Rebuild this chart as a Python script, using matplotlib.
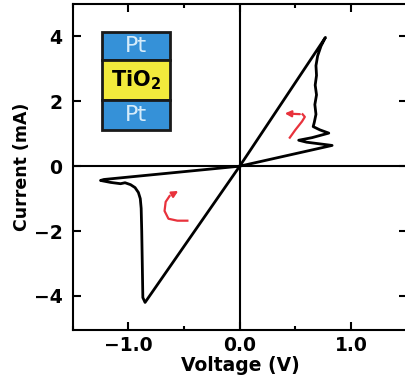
import matplotlib
matplotlib.use("Agg")
import matplotlib.pyplot as plt
from matplotlib.patches import Rectangle
from matplotlib.ticker import MultipleLocator

plt.rcParams['font.family'] = ['DejaVu Sans']
plt.rcParams['mathtext.fontset'] = 'dejavusans'

# I-V loop (Voltage in V, Current in mA)
voltage = [0.0, -0.85, -0.87, -0.875, -0.88, -0.885, -0.893, -0.91, -0.94, -0.98,
           -1.03, -1.07, -1.16, -1.25, -1.22, 0.0,
           0.83, 0.60, 0.53, 0.65, 0.80, 0.72, 0.66, 0.67, 0.685, 0.675, 0.69,
           0.678, 0.69, 0.685, 0.70, 0.73, 0.77, 0.0]
current = [0.0, -4.2, -4.05, -3.0, -2.0, -1.3, -1.0, -0.81, -0.66, -0.57,
           -0.51, -0.54, -0.50, -0.44, -0.41, 0.0,
           0.64, 0.74, 0.80, 0.88, 1.02, 1.12, 1.22, 1.35, 1.6, 1.9, 2.2,
           2.5, 2.8, 3.1, 3.4, 3.7, 3.97, 0.0]

xticks = [-1.0, 0.0, 1.0]
xticklabels = ['\u22121.0', '0.0', '1.0']
yticks = [-4, -2, 0, 2, 4]
yticklabels = ['\u22124', '\u22122', '0', '2', '4']
layers = ['Pt', 'TiO$_\\mathbf{2}$', 'Pt']

fig = plt.figure(figsize=(4.06, 3.81), dpi=100)
ax = fig.add_axes([72.7/406, 51/381, 334/406, 326/381])
ax.set_xlim(-1.5, 1.5)
ax.set_ylim(-5.05, 5.0)

ax.axhline(0, color='black', lw=1.5, zorder=1)
ax.axvline(0, color='black', lw=1.5, zorder=1)
ax.plot(voltage, current, color='black', lw=2.0, solid_joinstyle='round', zorder=3)

# red hand-drawn arrows
red = '#e8323c'
ax.plot([0.45, 0.50, 0.56, 0.585, 0.565], [0.88, 1.12, 1.38, 1.52, 1.60], color=red, lw=1.6)
ax.annotate('', xy=(0.38, 1.63), xytext=(0.565, 1.60),
            arrowprops=dict(arrowstyle='-|>', color=red, lw=1.6, mutation_scale=9))
ax.plot([-0.47, -0.56, -0.64, -0.675, -0.665, -0.63], [-1.68, -1.68, -1.62, -1.38, -1.1, -0.92],
        color=red, lw=1.6)
ax.annotate('', xy=(-0.53, -0.72), xytext=(-0.63, -0.92),
            arrowprops=dict(arrowstyle='-|>', color=red, lw=1.6, mutation_scale=9))

ax.set_xticks(xticks)
ax.set_xticklabels(xticklabels)
ax.set_yticks(yticks)
ax.set_yticklabels(yticklabels)
ax.xaxis.set_minor_locator(MultipleLocator(0.5))
ax.tick_params(which='both', direction='in', top=True, right=True, width=1.5,
               labelsize=13.5, colors='black')
ax.tick_params(which='major', length=6)
ax.tick_params(which='minor', length=3)
ax.tick_params(axis='x', pad=4)
ax.tick_params(axis='y', pad=7.5)
for lab in ax.get_xticklabels() + ax.get_yticklabels():
    lab.set_fontweight('bold')
for s in ax.spines.values():
    s.set_linewidth(1.5)

ax.set_xlabel('Voltage (V)', fontsize=13.5, fontweight='bold')
ax.set_ylabel('Current (mA)', fontsize=12.5, fontweight='bold')
ax.xaxis.set_label_coords(0.502, -0.110)
ax.xaxis.label.set_va('center')
ax.yaxis.set_label_coords(-0.152, 0.502)
ax.yaxis.label.set_va('center')

# inset stack
x0, x1 = 0.087, 0.292
bounds = [(0.828, 0.915), (0.706, 0.828), (0.613, 0.706)]
fills = ['#3591d8', '#f2ea3c', '#3591d8']
tcols = ['#d6ecfa', 'black', '#d6ecfa']
weights = ['normal', 'bold', 'normal']
sizes = [16, 15, 16]
for (y0, y1), fc, tc, lab, w, fs in zip(bounds, fills, tcols, layers, weights, sizes):
    ax.add_patch(Rectangle((x0, y0), x1 - x0, y1 - y0, transform=ax.transAxes,
                           facecolor=fc, edgecolor='#1a1a1a', lw=2.0, zorder=5))
    ax.text((x0 + x1) / 2, (y0 + y1) / 2, lab, transform=ax.transAxes, ha='center',
            va='center', color=tc, fontsize=fs, fontweight=w, zorder=6)

fig.savefig('out.png', dpi=100)
